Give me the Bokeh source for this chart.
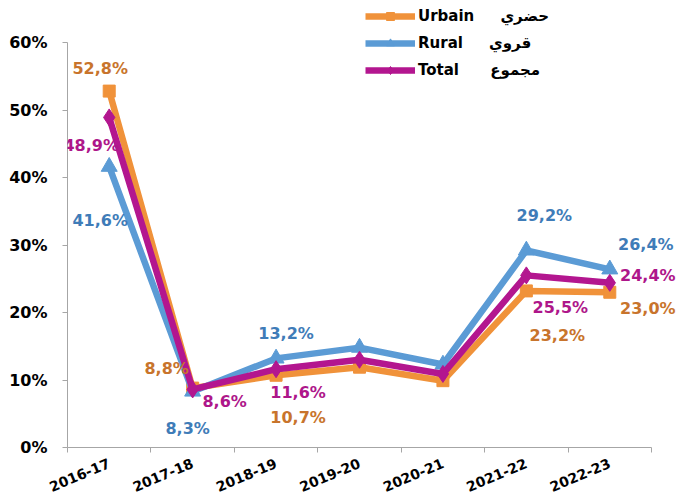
from bokeh.plotting import figure
from bokeh.models import Range1d, FixedTicker, NumeralTickFormatter, Legend, LegendItem, ColumnDataSource, Label
from bokeh.embed import file_html
from bokeh.resources import INLINE

# ---- data ----
years = ["2016-17", "2017-18", "2018-19", "2019-20", "2020-21", "2021-22", "2022-23"]
urbain = [52.8, 8.8, 10.7, 11.9, 9.9, 23.2, 23.0]
rural = [41.6, 8.3, 13.2, 14.8, 12.3, 29.2, 26.4]
total = [48.9, 8.6, 11.6, 13.0, 10.9, 25.5, 24.4]
y_ticks = [0, 10, 20, 30, 40, 50, 60]
labelled = [0, 1, 2, 5, 6]
names = ["Urbain\u00a0\u00a0\u00a0\u00a0\u00a0حضري", "Rural\u00a0\u00a0\u00a0\u00a0\u00a0قروي", "Total\u00a0\u00a0\u00a0\u00a0\u00a0\u00a0مجموع"]

# ---- styles / label positions (screen px, +dy = down) ----
line_colors = ["#F0923A", "#5B9BD5", "#B3168F"]
label_colors = ["#C8742C", "#3F7CB8", "#AE168A"]
markers = ["square", "triangle", "diamond"]
marker_sizes = [12, 16, 17]
offsets = [
    [(-9, -23), (-26, -20), (22, 42), (31, 45), (38, 16)],
    [(-9, 54), (-5, 37), (10, -25), (18, -35), (36, -25)],
    [(-18, 28), (32, 12), (22, 23), (34, 32), (38, -7)],
]

FONT = "DejaVu Sans"

# plot area: axes span 584 x 405 px; frame is extended right/up to hold labels and legend
AX_W, AX_H = 584, 405
EXTRA_R, EXTRA_T = 26, 42
n = len(years)
ymax = y_ticks[-1] / 100
x_end = n * (AX_W + EXTRA_R) / AX_W
y_end = ymax * (AX_H + EXTRA_T) / AX_H

p = figure(frame_width=AX_W + EXTRA_R, frame_height=AX_H + EXTRA_T,
           min_border_left=67, min_border_right=0, min_border_top=0, min_border_bottom=54,
           x_range=Range1d(0, x_end), y_range=Range1d(0, y_end),
           output_backend="svg", toolbar_location=None)
p.background_fill_color = "white"
p.border_fill_color = "white"
p.outline_line_color = None
p.xgrid.visible = False
p.ygrid.visible = False

xs = [i + 0.5 for i in range(n)]
items = []
for k, series in enumerate([urbain, rural, total]):
    ys = [v / 100 for v in series]
    src = ColumnDataSource(dict(x=xs, y=ys))
    ln = p.line("x", "y", source=src, line_color=line_colors[k], line_width=6.5, line_join="round")
    sc = p.scatter("x", "y", source=src, marker=markers[k], size=marker_sizes[k],
                   fill_color=line_colors[k], line_color=line_colors[k])
    items.append(LegendItem(label=names[k], renderers=[ln, sc]))

for k, series in enumerate([urbain, rural, total]):
    for j, idx in enumerate(labelled):
        dx, dy = offsets[k][j]
        txt = f"{series[idx]:.1f}".replace(".", ",") + "%"
        p.add_layout(Label(x=xs[idx], y=series[idx] / 100, text=txt,
                           x_offset=dx, y_offset=-dy,
                           text_align="center", text_baseline="middle",
                           text_font=FONT, text_font_style="bold", text_font_size="16px",
                           text_color=label_colors[k]))

legend = Legend(items=items, location=(298, 367))
legend.padding = 0
legend.margin = 0
legend.spacing = 7
legend.glyph_height = 20
legend.glyph_width = 50
legend.label_height = 20
legend.label_standoff = 3
legend.border_line_color = None
legend.background_fill_alpha = 0
legend.label_text_font = FONT
legend.label_text_font_style = "bold"
legend.label_text_font_size = "15px"
legend.label_text_color = "black"
p.add_layout(legend)

# axes
p.yaxis.ticker = FixedTicker(ticks=[t / 100 for t in y_ticks])
p.yaxis.bounds = (0, ymax)
p.yaxis.formatter = NumeralTickFormatter(format="0%")
p.yaxis.axis_line_color = "#A6A6A6"
p.yaxis.major_tick_line_color = "#A6A6A6"
p.yaxis.major_tick_out = 5
p.yaxis.major_tick_in = 0
p.yaxis.minor_tick_line_color = None
p.yaxis.major_label_standoff = 15
p.yaxis.major_label_text_font = FONT
p.yaxis.major_label_text_font_style = "bold"
p.yaxis.major_label_text_font_size = "16px"
p.yaxis.major_label_text_color = "black"

p.xaxis.ticker = FixedTicker(ticks=xs, minor_ticks=list(range(n + 1)))
p.xaxis.bounds = (0, n)
p.xaxis.major_label_overrides = {x: y for x, y in zip(xs, years)}
p.xaxis.axis_line_color = "#A6A6A6"
p.xaxis.major_tick_line_color = None
p.xaxis.minor_tick_line_color = "#A6A6A6"
p.xaxis.minor_tick_out = 5
p.xaxis.minor_tick_in = 0
p.xaxis.major_label_orientation = 0.4
p.xaxis.major_label_standoff = 9
p.xaxis.major_label_text_font = FONT
p.xaxis.major_label_text_font_style = "bold"
p.xaxis.major_label_text_font_size = "14px"
p.xaxis.major_label_text_color = "black"

open("out.html", "w").write(file_html(p, INLINE))
